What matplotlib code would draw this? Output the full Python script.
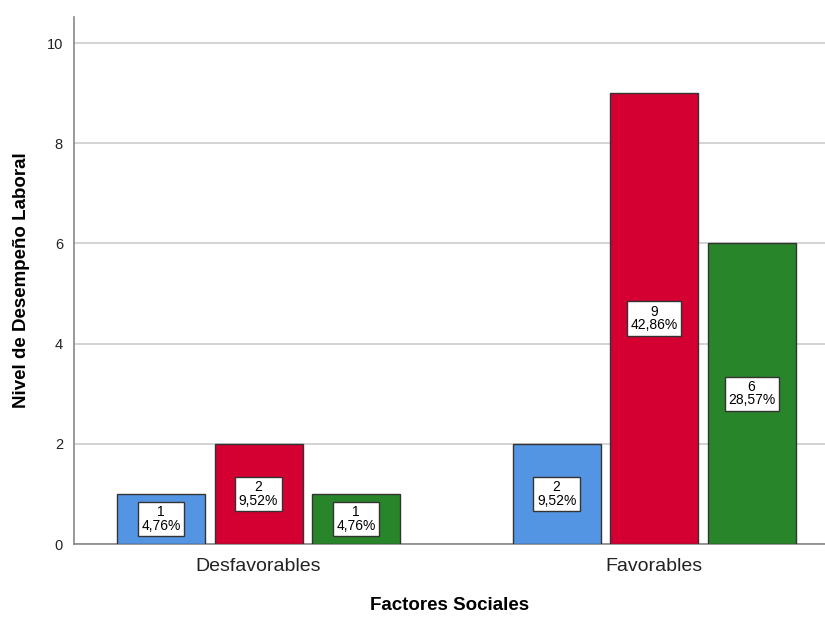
import numpy as np
import matplotlib.pyplot as plt

plt.rcParams['font.family'] = ['Liberation Sans', 'DejaVu Sans']

categories = ['Desfavorables', 'Favorables']
series_colors = ['#5495E3', '#D40032', '#29852A']
counts = [[1, 2], [2, 9], [1, 6]]
percents = [['4,76%', '9,52%'], ['9,52%', '42,86%'], ['4,76%', '28,57%']]

fig = plt.figure(figsize=(8.25, 6.17), dpi=100)
ax = fig.add_axes([0.0897, 0.1183, 0.9103, 0.8541])

x = np.arange(len(categories))
width = 0.2225
step = 0.2465
for i in range(len(counts)):
    xs = x + (i - 1) * step
    ax.bar(xs, counts[i], width=width, color=series_colors[i],
           edgecolor='#333333', linewidth=1.0, zorder=3)
    for xx, v, p in zip(xs, counts[i], percents[i]):
        ax.text(xx, v / 2, f'{v}\n{p}', ha='center', va='center', fontsize=10,
                linespacing=0.95, zorder=4,
                bbox=dict(boxstyle='square,pad=0.25', fc='white', ec='#333333', lw=1.0))

ax.set_xlim(-0.4665, 1.432)
ax.set_ylim(0, 10.52)
ax.set_yticks([0, 2, 4, 6, 8, 10])
ax.set_xticks(x)
ax.set_xticklabels(categories, fontsize=14, color='#222222')
ax.tick_params(axis='y', labelsize=10.5, length=0, pad=8, colors='#222222')
ax.tick_params(axis='x', length=0, pad=10)
ax.yaxis.grid(True, color='#CCCCCC', linewidth=1.2, zorder=0)
ax.set_axisbelow(True)
for s in ['top', 'right']:
    ax.spines[s].set_visible(False)
ax.spines['left'].set_color('#888888')
ax.spines['bottom'].set_color('#888888')
ax.spines['left'].set_linewidth(1.2)
ax.spines['bottom'].set_linewidth(1.2)

ax.set_xlabel('Factores Sociales', fontsize=13.5, fontweight='bold', labelpad=16)
ax.set_ylabel('Nivel de Desempeño Laboral', fontsize=13.5, fontweight='bold', labelpad=12)

fig.savefig('out.png', dpi=100)
